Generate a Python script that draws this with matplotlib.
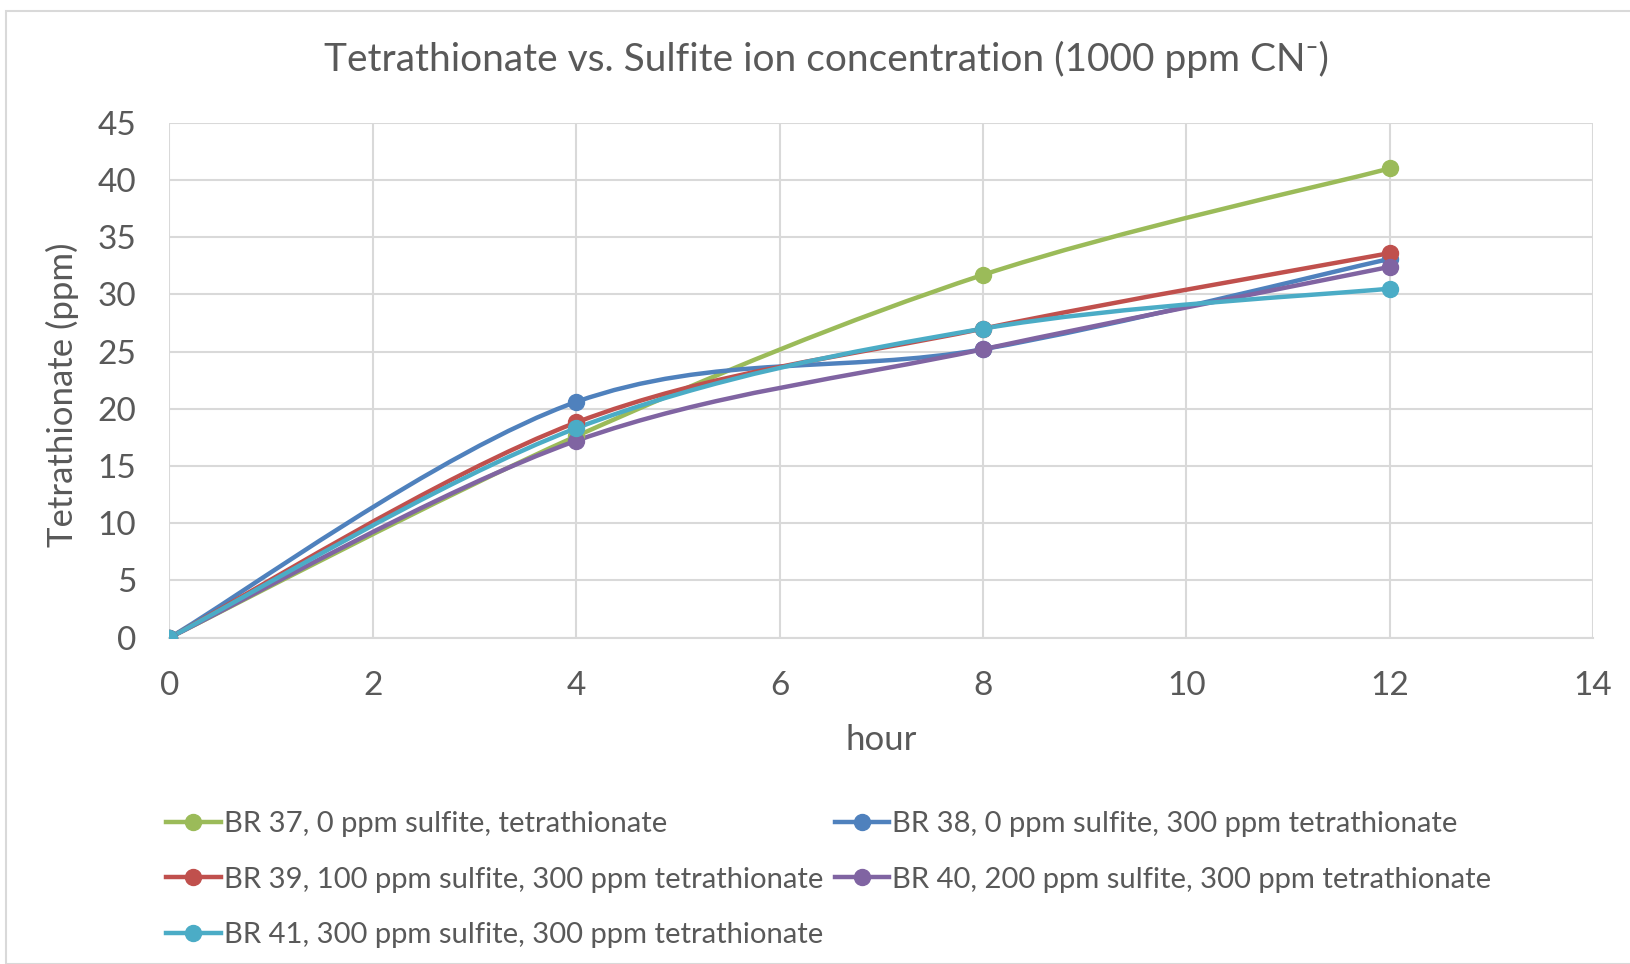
import numpy as np
import matplotlib
matplotlib.use("Agg")
import matplotlib.pyplot as plt
from matplotlib.path import Path
from matplotlib.patches import PathPatch, Rectangle
from matplotlib.lines import Line2D

plt.rcParams['font.family'] = ['Lato', 'DejaVu Sans']

hours = [0, 4, 8, 12]
br37 = [0, 17.6, 31.7, 41.0]
br38 = [0, 20.6, 25.2, 33.1]
br39 = [0, 18.8, 27.0, 33.6]
br40 = [0, 17.2, 25.2, 32.4]
br41 = [0, 18.3, 27.0, 30.5]

labels = [
    "BR 37, 0 ppm sulfite, tetrathionate",
    "BR 38, 0 ppm sulfite, 300 ppm tetrathionate",
    "BR 39, 100 ppm sulfite, 300 ppm tetrathionate",
    "BR 40, 200 ppm sulfite, 300 ppm tetrathionate",
    "BR 41, 300 ppm sulfite, 300 ppm tetrathionate",
]
colors = ["#9BBB59", "#4F81BD", "#C0504D", "#8064A2", "#4BACC6"]
series = [br37, br38, br39, br40, br41]

TEXT = "#595959"
GRID = "#D9D9D9"


def smooth_path(xs, ys):
    """Cubic Bezier path through the points (Catmull-Rom style smoothing)."""
    pts = np.column_stack([xs, ys]).astype(float)
    n = len(pts)
    verts = [pts[0]]
    codes = [Path.MOVETO]
    for i in range(n - 1):
        p0 = pts[max(i - 1, 0)]
        p1 = pts[i]
        p2 = pts[i + 1]
        p3 = pts[min(i + 2, n - 1)]
        c1 = p1 + (p2 - p0) / 6.0
        c2 = p2 - (p3 - p1) / 6.0
        verts += [c1, c2, p2]
        codes += [Path.CURVE4] * 3
    return Path(verts, codes)


W, H = 1631, 964
fig = plt.figure(figsize=(W / 100, H / 100), dpi=100)
ax = fig.add_axes([169.5 / W, 1 - 637.6 / H, (1593 - 169.5) / W, (637.6 - 122.7) / H])

for ys, c in zip(series, colors):
    ax.add_patch(PathPatch(smooth_path(hours, ys), fill=False, edgecolor=c,
                           linewidth=3.2, capstyle='round', joinstyle='round', zorder=3))
    ax.plot(hours, ys, linestyle='none', marker='o', markersize=11.5,
            color=c, zorder=4)

ax.set_xlim(0, 14)
ax.set_ylim(0, 45)
ax.set_xticks(range(0, 15, 2))
ax.set_yticks(range(0, 46, 5))
ax.grid(True, color=GRID, linewidth=1.5, zorder=0)
ax.set_axisbelow(True)
for s in ['top', 'right', 'left']:
    ax.spines[s].set_visible(False)
ax.spines['bottom'].set_color(GRID)
ax.spines['bottom'].set_linewidth(1.5)
ax.tick_params(length=0, labelsize=24, labelcolor=TEXT, pad=24)

ax.set_xlabel("hour", fontsize=25, color=TEXT, va='center')
ax.xaxis.set_label_coords(0.5, -0.199)
ax.set_ylabel("Tetrathionate (ppm)", fontsize=25, color=TEXT, va='center')
ax.yaxis.set_label_coords(-0.0755, 0.471)

fig.text(0.507, 1 - 59 / H,
         "Tetrathionate vs. Sulfite ion concentration (1000 ppm CN\u207B)",
         ha='center', va='center', fontsize=28, color=TEXT)

handles = [Line2D([], [], color=c, linewidth=3.2, marker='o', markersize=11.5)
           for c in colors]
order = [0, 2, 4, 1, 3]
leg = fig.legend([handles[i] for i in order], [labels[i] for i in order],
                 ncol=2, loc='upper left', bbox_to_anchor=(140 / W, 1 - 785 / H),
                 frameon=False, fontsize=21.1, handlelength=1.85, handletextpad=0.1,
                 columnspacing=0.4, labelspacing=1.0, labelcolor=TEXT)

fig.patches.append(Rectangle((6 / W, 0), 1, 1 - 11 / H, transform=fig.transFigure,
                             fill=False, edgecolor=GRID, linewidth=1.5))

fig.savefig("out.png", dpi=100, facecolor='white')
